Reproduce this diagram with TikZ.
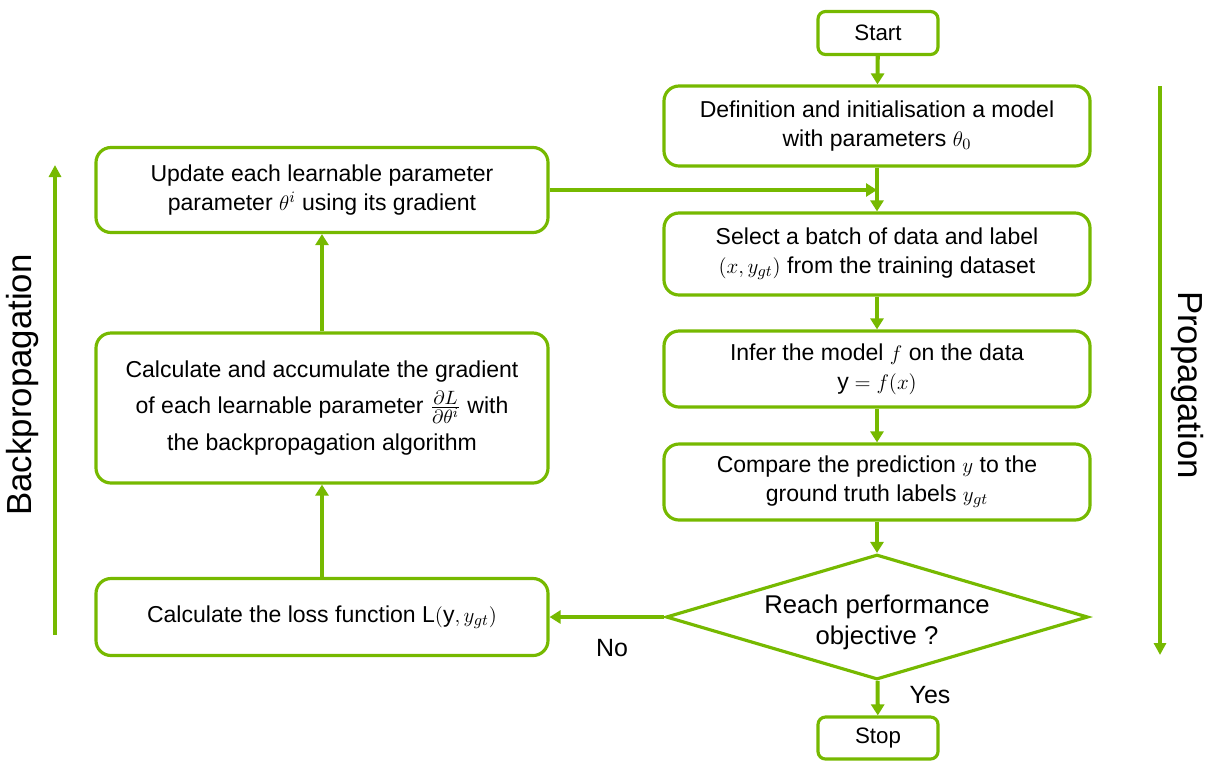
\documentclass[tikz,border=0pt]{standalone}
\usepackage{fontspec}
\setmainfont{Liberation Sans}
\usetikzlibrary{arrows.meta,shapes.geometric}
\definecolor{nvgreen}{RGB}{118,185,0}

\tikzset{
    stepbox/.style={draw=nvgreen, line width=1.8pt, rounded corners=0.3cm, align=center,
        font=\fontsize{13.1}{16.5}\selectfont, inner sep=2pt},
    endbox/.style={stepbox, rounded corners=0.15cm, minimum width=2.4cm, minimum height=0.86cm,
        font=\fontsize{12.7}{15}\selectfont},
    arr/.style={draw=nvgreen, line width=2.3pt, -{Triangle[width=0.26cm,length=0.22cm]}},
    bigarr/.style={draw=nvgreen, line width=2.1pt, -{Triangle[width=0.24cm,length=0.24cm]}},
    lbl/.style={font=\fontsize{14.2}{17}\selectfont}
}

\begin{document}
\begin{tikzpicture}
    \useasboundingbox (0,0) rectangle (24.22,-15.2);

    % right column
    \node[endbox] (start) at (17.56,-0.66) {Start};
    \node[stepbox, minimum width=8.52cm, minimum height=1.6cm] (init) at (17.54,-2.52)
        {Definition and initialisation a model\\ with parameters $\theta_0$};
    \node[stepbox, minimum width=8.52cm, minimum height=1.64cm] (batch) at (17.54,-5.08)
        {Select a batch of data and label\\ $(x, y_{gt})$ from the training dataset};
    \node[stepbox, minimum width=8.52cm, minimum height=1.52cm] (infer) at (17.54,-7.38)
        {Infer the model $f$ on the data\\ $\mathrm{y} = f(x)$};
    \node[stepbox, minimum width=8.52cm, minimum height=1.52cm] (compare) at (17.54,-9.64)
        {Compare the prediction $y$ to the\\ ground truth labels $y_{gt}$};
    \node[draw=nvgreen, line width=1.8pt, shape=diamond, aspect=3.38, inner sep=0pt,
        minimum width=8.44cm, minimum height=2.5cm] (goal) at (17.54,-12.34) {};
    \node[align=center, font=\fontsize{14.6}{17.6}\selectfont] (goaltext) at (17.54,-12.44)
        {Reach performance\\ objective ?};
    \node[endbox, minimum height=0.84cm] (stop) at (17.56,-14.76) {Stop};

    % left column
    \node[stepbox, minimum width=9.04cm, minimum height=1.7cm] (update) at (6.44,-3.8)
        {Update each learnable parameter\\ parameter $\theta^i$ using its gradient};
    \node[stepbox, minimum width=9.04cm, minimum height=3cm] (grad) at (6.44,-8.16)
        {Calculate and accumulate the gradient\\[4.5pt] of each learnable parameter {\fontsize{15.5}{15.5}\selectfont$\frac{\partial L}{\partial\theta^i}$} with\\[4.5pt] the backpropagation algorithm};
    \node[stepbox, minimum width=9.04cm, minimum height=1.54cm] (loss) at (6.44,-12.34)
        {Calculate the loss function $\mathrm{L}(\mathrm{y}, y_{gt})$};

    % flow
    \draw[arr] (start) -- (init);
    \draw[arr] (init) -- (batch);
    \draw[arr] (batch) -- (infer);
    \draw[arr] (infer) -- (compare);
    \draw[arr] (compare) -- (goal);
    \draw[arr] (goal) -- (stop);
    \draw[arr] (goal.west) -- (loss.east);
    \draw[arr] (loss) -- (grad);
    \draw[arr] (grad) -- (update);
    \draw[arr] (update.east) -- (update.east -| init.south);

    \node[lbl] (no) at (12.24,-12.96) {No};
    \node[lbl] (yes) at (18.6,-13.9) {Yes};

    % side arrows
    \coordinate (bpbot) at (1.1,-12.7);
    \coordinate (bptop) at (1.1,-3.3);
    \coordinate (prtop) at (23.2,-1.72);
    \coordinate (prbot) at (23.2,-13.1);
    \draw[bigarr] (bpbot) -- (bptop);
    \draw[bigarr] (prtop) -- (prbot);
    \node[rotate=90, font=\fontsize{19.8}{24}\selectfont] (bplbl) at (0.46,-7.7) {Backpropagation};
    \node[rotate=-90, font=\fontsize{19.8}{24}\selectfont] (prlbl) at (23.74,-7.7) {Propagation};
\end{tikzpicture}
\end{document}
